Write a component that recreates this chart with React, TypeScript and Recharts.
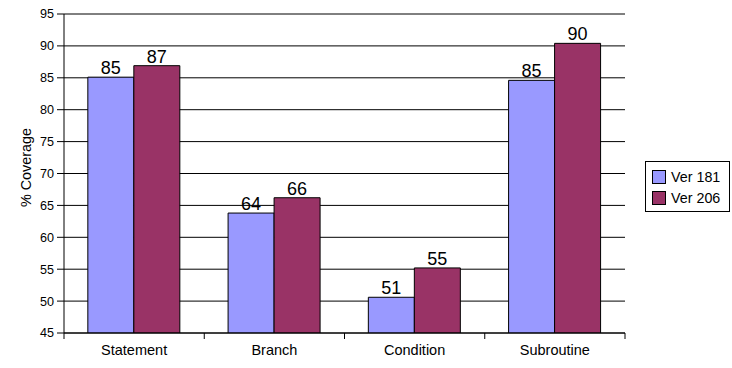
import React from 'react';
import {
  BarChart,
  Bar,
  XAxis,
  YAxis,
  CartesianGrid,
  LabelList,
} from 'recharts';

// coverage metrics
const categories = ['Statement', 'Branch', 'Condition', 'Subroutine'];
const ver181 = [85.1, 63.8, 50.6, 84.6];
const ver206 = [86.9, 66.2, 55.2, 90.4];
const yTicks = [45, 50, 55, 60, 65, 70, 75, 80, 85, 90, 95];

const series = [
  { key: 'v181', name: 'Ver 181', color: '#9999FF' },
  { key: 'v206', name: 'Ver 206', color: '#993366' },
];

const data = categories.map((name, i) => ({
  name,
  v181: ver181[i],
  v206: ver206[i],
}));

const FONT = '"Liberation Sans", Arial, sans-serif';
const TICK_MARGIN = 6;

// category label plus tick marks on the category boundaries (Excel style)
function CategoryTick(props: any) {
  const { x, y, payload, index, width } = props;
  const band = width / categories.length;
  const top = y - 6 - TICK_MARGIN;
  return (
    <g>
      <line x1={x - band / 2} y1={top} x2={x - band / 2} y2={top + 6} stroke="#000" />
      {index === categories.length - 1 && (
        <line x1={x + band / 2} y1={top} x2={x + band / 2} y2={top + 6} stroke="#000" />
      )}
      <text x={x} y={y} dy="0.71em" textAnchor="middle" fontSize={14.5} fontFamily={FONT} fill="#000">
        {payload.value}
      </text>
    </g>
  );
}

function LegendBox() {
  return (
    <div
      style={{
        position: 'absolute',
        left: 645,
        top: 161,
        border: '1px solid #000',
        background: '#fff',
        padding: '4px 9px 3px 6px',
        fontFamily: FONT,
        fontSize: 14.3,
        color: '#000',
        whiteSpace: 'nowrap',
      }}
    >
      {series.map((s) => (
        <div key={s.key} style={{ display: 'flex', alignItems: 'center', height: 21 }}>
          <span
            style={{
              display: 'inline-block',
              width: 12,
              height: 12,
              background: s.color,
              border: '1px solid #000',
              marginRight: 5,
              flexShrink: 0,
            }}
          />
          {s.name}
        </div>
      ))}
    </div>
  );
}

export default function App() {
  return (
    <div style={{ position: 'absolute', left: 0, top: 0, width: 732, height: 368, background: '#fff' }}>
      <BarChart
        width={732}
        height={368}
        data={data}
        margin={{ top: 14, right: 107, bottom: 0, left: 0 }}
        barCategoryGap="17%"
        barGap={0}
      >
        <CartesianGrid vertical={false} stroke="#000" strokeWidth={1} />
        <XAxis
          dataKey="name"
          height={35}
          axisLine={{ stroke: '#000' }}
          tickLine={false}
          tickMargin={TICK_MARGIN}
          interval={0}
          tick={<CategoryTick />}
        />
        <YAxis
          width={64}
          domain={[45, 95]}
          ticks={yTicks}
          interval={0}
          allowDataOverflow
          axisLine={{ stroke: '#000' }}
          tickLine={{ stroke: '#000' }}
          tickSize={7}
          tickMargin={3}
          tick={{ fontSize: 12.6, fill: '#000', fontFamily: FONT }}
          label={{
            content: ({ viewBox }: any) => {
              const cx = viewBox.x + 26;
              const cy = viewBox.y + viewBox.height / 2 - 6;
              return (
                <text
                  x={cx}
                  y={cy}
                  transform={`rotate(-90, ${cx}, ${cy})`}
                  textAnchor="middle"
                  dominantBaseline="central"
                  fontSize={14.4}
                  fontFamily={FONT}
                  fill="#000"
                >
                  % Coverage
                </text>
              );
            },
          }}
        />
        {series.map((s) => (
          <Bar
            key={s.key}
            dataKey={s.key}
            name={s.name}
            fill={s.color}
            stroke="#000"
            strokeWidth={1}
            isAnimationActive={false}
          >
            <LabelList
              dataKey={s.key}
              position="top"
              offset={3}
              formatter={(v: any) => Math.round(Number(v))}
              style={{ fontSize: 18, fill: '#000', fontFamily: FONT }}
            />
          </Bar>
        ))}
      </BarChart>
      <LegendBox />
    </div>
  );
}
